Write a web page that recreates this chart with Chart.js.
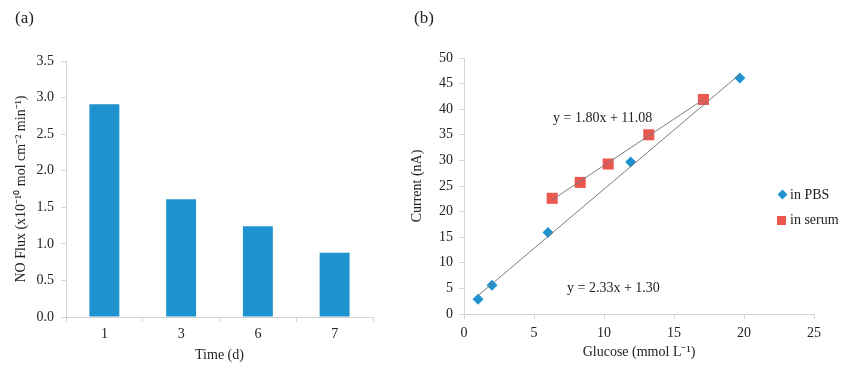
<!DOCTYPE html>
<html>
<head>
<meta charset="utf-8">
<script src="https://cdn.jsdelivr.net/npm/chart.js@4.4.1/dist/chart.umd.min.js"></script>
<style>
  body { margin: 0; background: #fff; }
  #wrap { position: relative; width: 859px; height: 378px; overflow: hidden; font-family: "Liberation Serif", "Times New Roman", serif; color: #222; }
  canvas { position: absolute; top: 0; }
  #chartA { left: 0; }
  #chartB { left: 400px; }
  .panel { position: absolute; top: 8px; font-size: 17px; }
  .leg { position: absolute; font-size: 14px; line-height: 16px; }
  .mk { position: absolute; }
</style>
</head>
<body>
<div id="wrap">
  <canvas id="chartA" width="420" height="378"></canvas>
  <canvas id="chartB" width="459" height="378"></canvas>
  <div class="panel" style="left:15px">(a)</div>
  <div class="panel" style="left:414px">(b)</div>
  <div class="mk" style="left:779px;top:191px;width:7px;height:7px;background:#1f93cf;transform:rotate(45deg)"></div>
  <div class="leg" style="left:790px;top:187px">in PBS</div>
  <div class="mk" style="left:777px;top:216px;width:9px;height:9px;background:#ec5750"></div>
  <div class="leg" style="left:790px;top:212px">in serum</div>
</div>
<script>
// (a) flujo de NO por día
const dias = ['1', '3', '6', '7'];
const flujoNO = [2.91, 1.61, 1.24, 0.88];

// (b) calibración de glucosa
const glucosaPBS = [1, 2, 6, 11.9, 19.7];
const corrientePBS = [2.9, 5.6, 15.9, 29.7, 46.1];
const glucosaSuero = [6.3, 8.3, 10.3, 13.2, 17.1];
const corrienteSuero = [22.6, 25.7, 29.3, 35.0, 41.9];
const ecuaciones = ['y = 1.80x + 11.08', 'y = 2.33x + 1.30'];

const AZUL = '#1f93cf';
const ROJO = '#ec5750';
const EJE = '#d4d4d4';
const FUENTE = '"Liberation Serif", "Times New Roman", serif';

Chart.defaults.font.family = FUENTE;
Chart.defaults.font.size = 14;
Chart.defaults.color = '#222';
Chart.defaults.animation = false;

// recta de mínimos cuadrados, de xmin a xmax
function ajusteLineal(xs, ys) {
    const n = xs.length;
    const mx = xs.reduce((a, b) => a + b, 0) / n;
    const my = ys.reduce((a, b) => a + b, 0) / n;
    let sxy = 0, sxx = 0;
    xs.forEach((x, i) => { sxy += (x - mx) * (ys[i] - my); sxx += (x - mx) * (x - mx); });
    const m = sxy / sxx, b = my - m * mx;
    const x0 = Math.min(...xs), x1 = Math.max(...xs);
    return [{ x: x0, y: m * x0 + b }, { x: x1, y: m * x1 + b }];
}

function ejeGris(extra) {
    return Object.assign({
        border: { color: EJE, width: 1 },
        grid: { display: true, drawOnChartArea: false, color: EJE, tickLength: 5 }
    }, extra);
}

new Chart(document.getElementById('chartA'), {
    type: 'bar',
    data: {
        labels: dias,
        datasets: [{
            data: flujoNO,
            backgroundColor: AZUL,
            barPercentage: 0.39,
            categoryPercentage: 1
        }]
    },
    options: {
        responsive: false,
        layout: { padding: { top: 61, right: 47, left: 0, bottom: 0 } },
        plugins: { legend: { display: false }, tooltip: { enabled: false } },
        scales: {
            x: ejeGris({
                grid: { display: true, drawOnChartArea: false, color: EJE, tickLength: 5, offset: true },
                ticks: { padding: 4 },
                title: { display: true, text: 'Time (d)', padding: { top: 0, bottom: 14 } },
                afterFit: s => { s.height = 61; }
            }),
            y: ejeGris({
                min: 0, max: 3.5,
                ticks: { stepSize: 0.5, padding: 7, callback: v => v.toFixed(1) },
                title: { display: true, text: 'NO Flux (x10\u207B\u00B9\u2070 mol cm\u207B\u00B2 min\u207B\u00B9)', padding: { top: 13, bottom: 0 } },
                afterFit: s => { s.width = 66; }
            })
        }
    }
});

// texto de las ecuaciones en coordenadas de datos
const posEcuaciones = [{ x: 6.36, y: 38.3 }, { x: 7.36, y: 5.1 }];
const textoEcuaciones = {
    id: 'textoEcuaciones',
    afterDatasetsDraw(chart) {
        const { ctx, scales: { x, y } } = chart;
        ctx.save();
        ctx.font = '14px ' + FUENTE;
        ctx.fillStyle = '#222';
        ctx.textAlign = 'left';
        ctx.textBaseline = 'middle';
        ecuaciones.forEach((t, i) => {
            ctx.fillText(t, x.getPixelForValue(posEcuaciones[i].x), y.getPixelForValue(posEcuaciones[i].y));
        });
        ctx.restore();
    }
};

const aPuntos = (xs, ys) => xs.map((x, i) => ({ x: x, y: ys[i] }));
const lineaTendencia = pts => ({
    type: 'line', data: pts, showLine: true, borderColor: '#7a7a7a', borderWidth: 1,
    pointRadius: 0, fill: false, order: 0
});

new Chart(document.getElementById('chartB'), {
    type: 'scatter',
    data: {
        datasets: [
            lineaTendencia(ajusteLineal(glucosaSuero, corrienteSuero)),
            lineaTendencia(ajusteLineal(glucosaPBS, corrientePBS)),
            {
                label: 'in PBS', data: aPuntos(glucosaPBS, corrientePBS),
                pointStyle: 'rectRot', pointRadius: 5.5, backgroundColor: AZUL, borderWidth: 0, order: 2
            },
            {
                label: 'in serum', data: aPuntos(glucosaSuero, corrienteSuero),
                pointStyle: 'rect', pointRadius: 7.8, backgroundColor: ROJO, borderWidth: 0, order: 1
            }
        ]
    },
    options: {
        responsive: false,
        layout: { padding: { top: 58, right: 45, left: 0, bottom: 0 } },
        plugins: { legend: { display: false }, tooltip: { enabled: false } },
        scales: {
            x: ejeGris({
                type: 'linear', min: 0, max: 25,
                ticks: { stepSize: 5, padding: 6 },
                title: { display: true, text: 'Glucose (mmol L\u207B\u00B9)', padding: { top: 0, bottom: 17 } },
                afterFit: s => { s.height = 64; }
            }),
            y: ejeGris({
                min: 0, max: 50,
                ticks: { stepSize: 5, padding: 6 },
                title: { display: true, text: 'Current (nA)', padding: { top: 9, bottom: 0 } },
                afterFit: s => { s.width = 64; }
            })
        }
    },
    plugins: [textoEcuaciones]
});
</script>
</body>
</html>
